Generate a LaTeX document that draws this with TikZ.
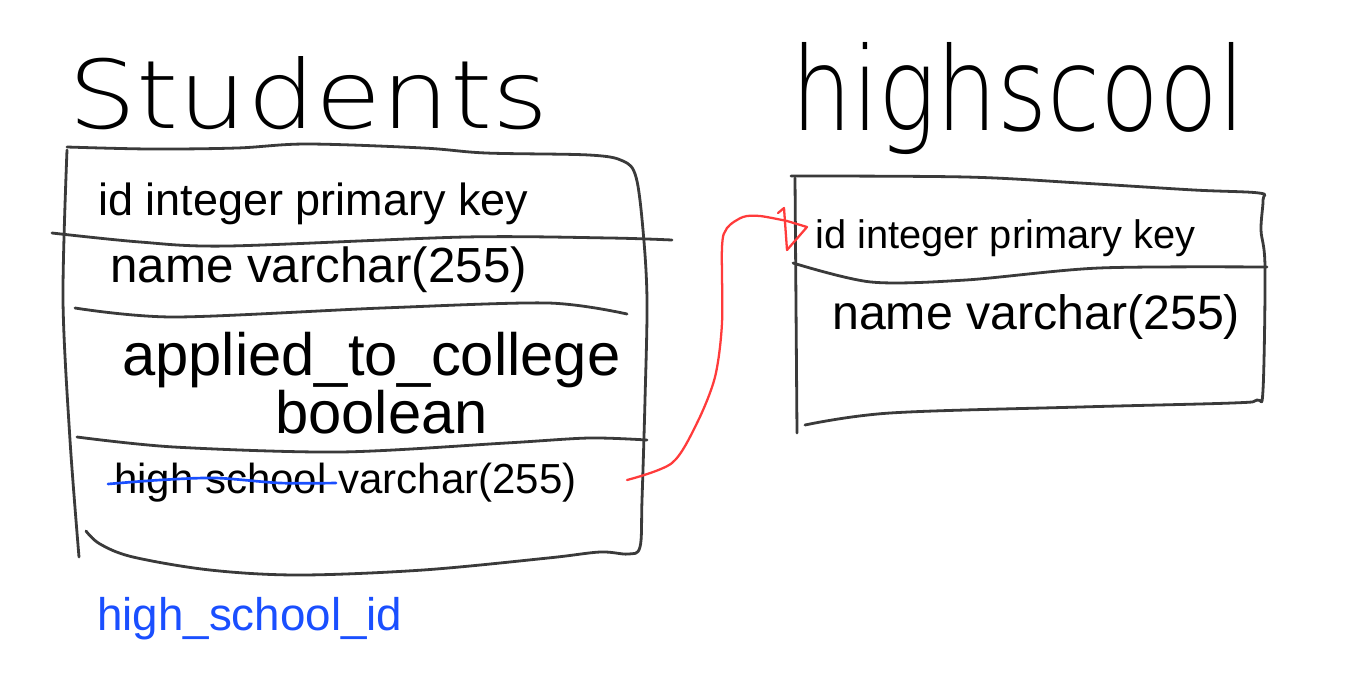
\documentclass[tikz,border=0pt]{standalone}
\usepackage{fontspec}
\setmainfont{Liberation Sans}
\newfontfamily\hand{DejaVu Sans ExtraLight}
\usepackage{graphicx}
\definecolor{ink}{HTML}{3A3A3A}
\definecolor{penred}{HTML}{FF3B3B}
\definecolor{penblue}{HTML}{1A4FFF}
\tikzset{
  sketch/.style={draw=ink, line width=2.1pt, line cap=round, line join=round},
  redpen/.style={draw=penred, line width=1.7pt, line cap=round, line join=round},
  bluepen/.style={draw=penblue, line width=2pt, line cap=round},
  field/.style={anchor=base west, inner sep=0pt, text=black},
}
\newcommand{\px}[1]{\fontsize{#1}{#1}\selectfont}
\begin{document}
\begin{tikzpicture}[x=0.75pt, y=-0.75pt]
\path[use as bounding box, fill=white] (0,0) rectangle (1345,683);

% titles
\node[field] (stitle) at (68,128) {\resizebox{360pt}{54pt}{\hand Students}};
\node[field] (htitle) at (791,130) {\resizebox{340pt}{66pt}{\hand highscool}};

% students table outline
\draw[sketch] plot[smooth, tension=0.55] coordinates {(86,531) (100,544) (133,557) (210,570) (299,575) (423,570) (548,558) (600,552) (628,554) (640,547) (642,500) (645,400) (647,300) (643,230) (636,177) (623,161) (589,155) (486,153) (423,148) (307,144) (237,148) (150,149) (67,147)};
\draw[sketch] plot[smooth] coordinates {(67,150) (63,300) (70,440) (79,557)};
\draw[sketch] plot[smooth] coordinates {(52,233) (140,242) (228,246) (465,237) (610,238) (672,240)};
\draw[sketch] plot[smooth] coordinates {(75,308) (174,317) (382,308) (548,303) (627,314)};
\draw[sketch] plot[smooth] coordinates {(77,437) (174,447) (340,452) (506,443) (589,438) (647,440)};

% students fields
\node[field] (sid) at (98,215) {\px{33.75pt}id integer primary key};
\node[field] (sname) at (110,282) {\px{37pt}name varchar(255)};
\node[field] (sapp) at (122,375) {\px{44.8pt}applied\_to\_college};
\node[field] (sbool) at (275,433) {\px{44.8pt}boolean};
\node[field] (shs) at (114,493) {\px{31.5pt}high school varchar(255)};
\draw[bluepen] plot[smooth] coordinates {(108,484) (160,480) (216,478) (280,483) (336,483)};
\node[field, text=penblue] (hsid) at (97,630) {\px{34.3pt}high\_school\_id};

% highscool table outline
\draw[sketch] plot[smooth, tension=0.55] coordinates {(805,425) (890,413) (1080,407) (1232,403) (1257,400) (1263,390) (1265,267) (1261,230) (1263,200) (1259,193) (1194,190) (1080,183) (966,177) (791,176)};
\draw[sketch] (795,178) -- (797,433);
\draw[sketch] plot[smooth] coordinates {(793,263) (871,282) (966,280) (1099,268) (1267,267)};

% highscool fields
\node[field] (hid) at (815,248) {\px{29.85pt}id integer primary key};
\node[field] (hname) at (832,329) {\px{36.2pt}name varchar(255)};

% red connector from high school field to highscool id
\coordinate (rstart) at (627,480);
\coordinate (rend) at (787,221);
\draw[redpen] plot[smooth] coordinates {(rstart) (672,463) (697,423) (715,377) (722,323) (722,247) (727,228) (743,217) (760,216) (rend)};
\draw[redpen] (778,213) -- (784,208) -- (787,250) -- (807,227) -- (rend);
\end{tikzpicture}
\end{document}
